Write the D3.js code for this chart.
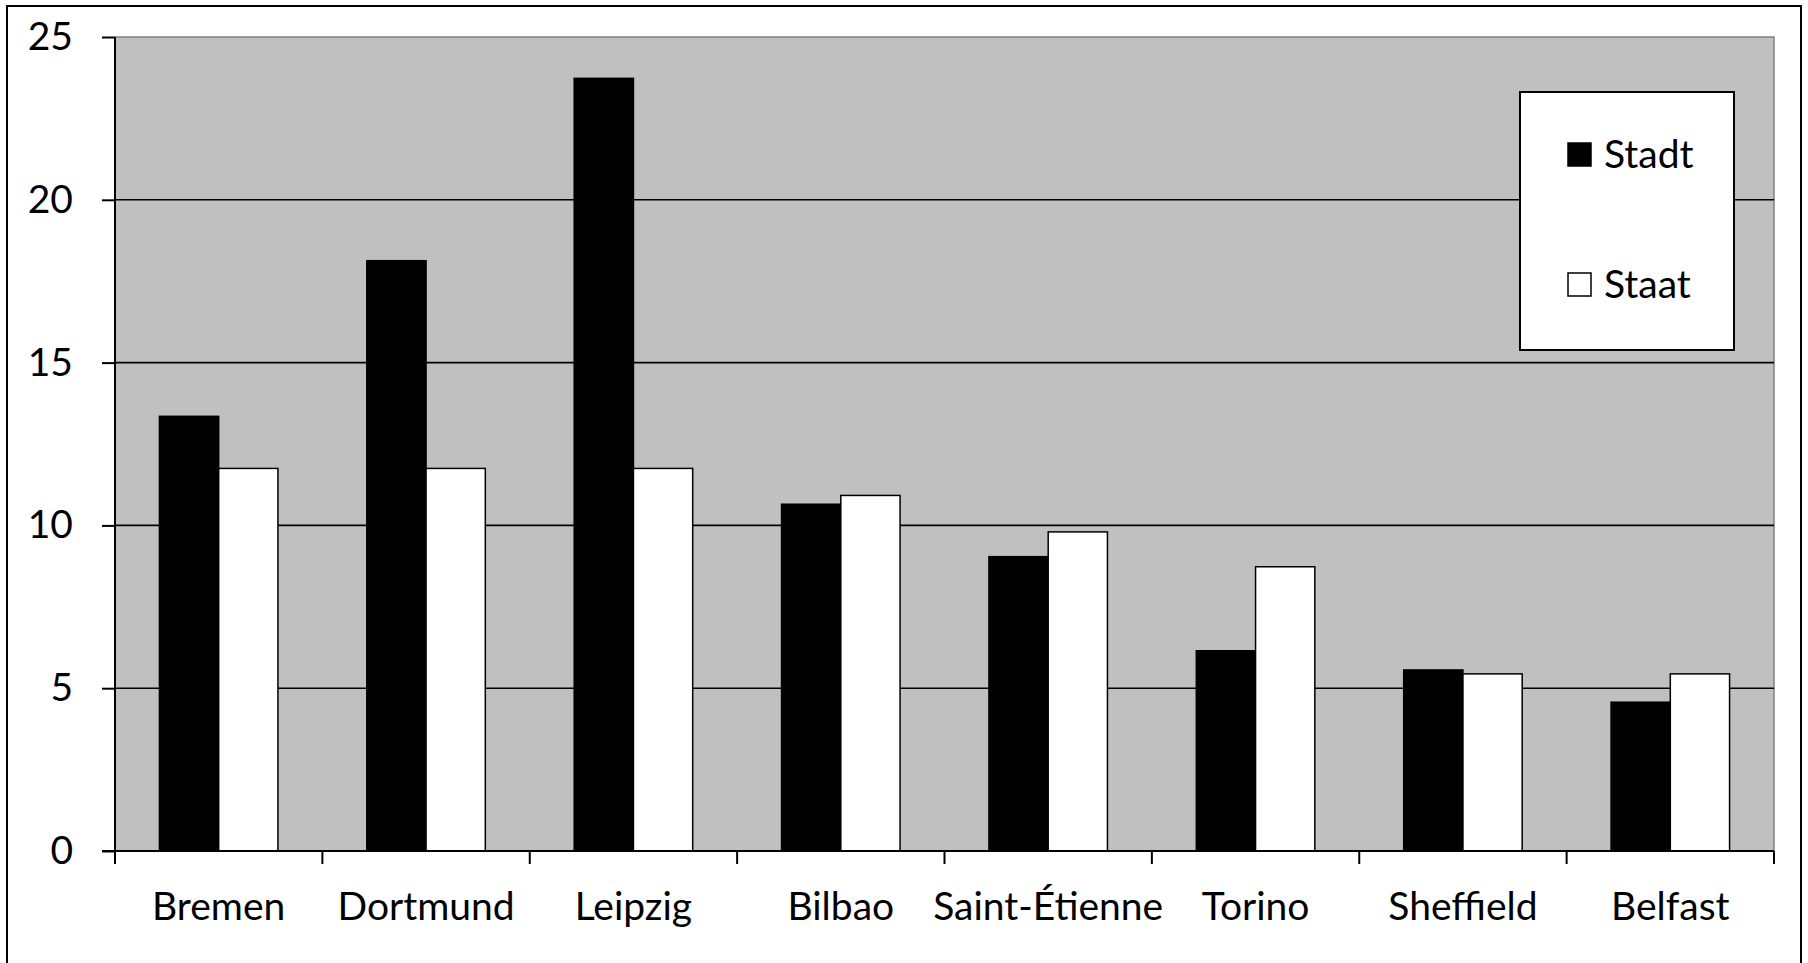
<!DOCTYPE html>
<html>
<head>
<meta charset="utf-8">
<script src="https://cdn.jsdelivr.net/npm/d3@7"></script>
<style>
  html, body { margin: 0; padding: 0; background: #fff; }
  svg { display: block; }
  text { font-family: Lato, "Open Sans", sans-serif; fill: #000; }
</style>
</head>
<body>
<svg id="chart" width="1808" height="963"></svg>
<script>
// Städte und Werte (Stadt vs. Staat)
const cities = ["Bremen", "Dortmund", "Leipzig", "Bilbao", "Saint-Étienne", "Torino", "Sheffield", "Belfast"];
const stadtValues = [13.35, 18.13, 23.73, 10.65, 9.04, 6.15, 5.56, 4.57];
const staatValues = [11.75, 11.75, 11.75, 10.92, 9.80, 8.73, 5.44, 5.44];
const seriesNames = ["Stadt", "Staat"];
const seriesColors = ["#000000", "#ffffff"];
const yTicks = [0, 5, 10, 15, 20, 25];

const fontSize = 39;
const svg = d3.select("#chart");
const plot = { left: 115, top: 37, right: 1774, bottom: 851 };

// Äußerer Rahmen
svg.append("path")
  .attr("d", `M7,970 V6 H1801 V970`)
  .attr("fill", "none")
  .attr("stroke", "#000")
  .attr("stroke-width", 2);

const x = d3.scaleBand().domain(cities).range([plot.left, plot.right]).paddingInner(0).paddingOuter(0);
const barW = x.bandwidth() / 3.5;
const xs = d3.scaleBand().domain(seriesNames).range([0.75 * barW, 2.75 * barW]).padding(0);
const y = d3.scaleLinear().domain([0, 25]).range([plot.bottom, plot.top]);

// Zeichenfläche
svg.append("rect")
  .attr("x", plot.left).attr("y", plot.top)
  .attr("width", plot.right - plot.left).attr("height", plot.bottom - plot.top)
  .attr("fill", "#c0c0c0")
  .attr("stroke", "#808080").attr("stroke-width", 1.5);

// Gitterlinien
svg.append("g")
  .selectAll("line")
  .data(yTicks.filter(d => d > 0 && d < 25))
  .join("line")
  .attr("x1", plot.left).attr("x2", plot.right)
  .attr("y1", d => y(d)).attr("y2", d => y(d))
  .attr("stroke", "#000").attr("stroke-width", 1.6);

// Balken
const data = cities.map((c, i) => ({ city: c, values: [stadtValues[i], staatValues[i]] }));
const groups = svg.append("g").selectAll("g")
  .data(data).join("g")
  .attr("transform", d => `translate(${x(d.city)},0)`);

groups.selectAll("rect")
  .data(d => d.values.map((v, k) => ({ key: seriesNames[k], value: v, color: seriesColors[k] })))
  .join("rect")
  .attr("x", d => xs(d.key))
  .attr("width", xs.bandwidth())
  .attr("y", d => y(d.value))
  .attr("height", d => y(0) - y(d.value))
  .attr("fill", d => d.color)
  .attr("stroke", "#000").attr("stroke-width", 1.5);

// Y-Achse
const yAxis = svg.append("g")
  .attr("transform", `translate(${plot.left},0)`)
  .call(d3.axisLeft(y).tickValues(yTicks).tickSize(13).tickPadding(29));
yAxis.select(".domain").attr("stroke", "#000").attr("stroke-width", 2).attr("d", `M0,${plot.bottom}V${plot.top}`);
yAxis.selectAll(".tick line").attr("stroke", "#000").attr("stroke-width", 2);
yAxis.selectAll(".tick text")
  .style("font-family", "Lato, 'Open Sans', sans-serif")
  .attr("font-size", fontSize).attr("fill", "#000");

// X-Achse
const xAxis = svg.append("g")
  .attr("transform", `translate(0,${plot.bottom})`);
xAxis.append("line")
  .attr("x1", plot.left - 13).attr("x2", plot.right)
  .attr("y1", 0).attr("y2", 0)
  .attr("stroke", "#000").attr("stroke-width", 2);
const boundaries = cities.map(c => x(c)).concat([x(cities[cities.length - 1]) + x.bandwidth()]);
xAxis.selectAll("line.tick")
  .data(boundaries).join("line")
  .attr("class", "tick")
  .attr("x1", d => d).attr("x2", d => d)
  .attr("y1", 0).attr("y2", 13)
  .attr("stroke", "#000").attr("stroke-width", 2);
xAxis.selectAll("text")
  .data(cities).join("text")
  .attr("x", d => x(d) + x.bandwidth() / 2)
  .attr("y", 69)
  .attr("text-anchor", "middle")
  .attr("font-size", fontSize)
  .text(d => d);

// Legende
const legend = svg.append("g");
legend.append("rect")
  .attr("x", 1520).attr("y", 92).attr("width", 214).attr("height", 258)
  .attr("fill", "#fff").attr("stroke", "#000").attr("stroke-width", 2);
const items = legend.selectAll("g.item")
  .data(seriesNames).join("g")
  .attr("class", "item")
  .attr("transform", (d, i) => `translate(1568,${143 + i * 130})`);
items.append("rect")
  .attr("width", 23).attr("height", 23)
  .attr("fill", (d, i) => seriesColors[i])
  .attr("stroke", "#000").attr("stroke-width", 1.5);
items.append("text")
  .attr("x", 36).attr("y", 25)
  .attr("font-size", fontSize)
  .text(d => d);
</script>
</body>
</html>
